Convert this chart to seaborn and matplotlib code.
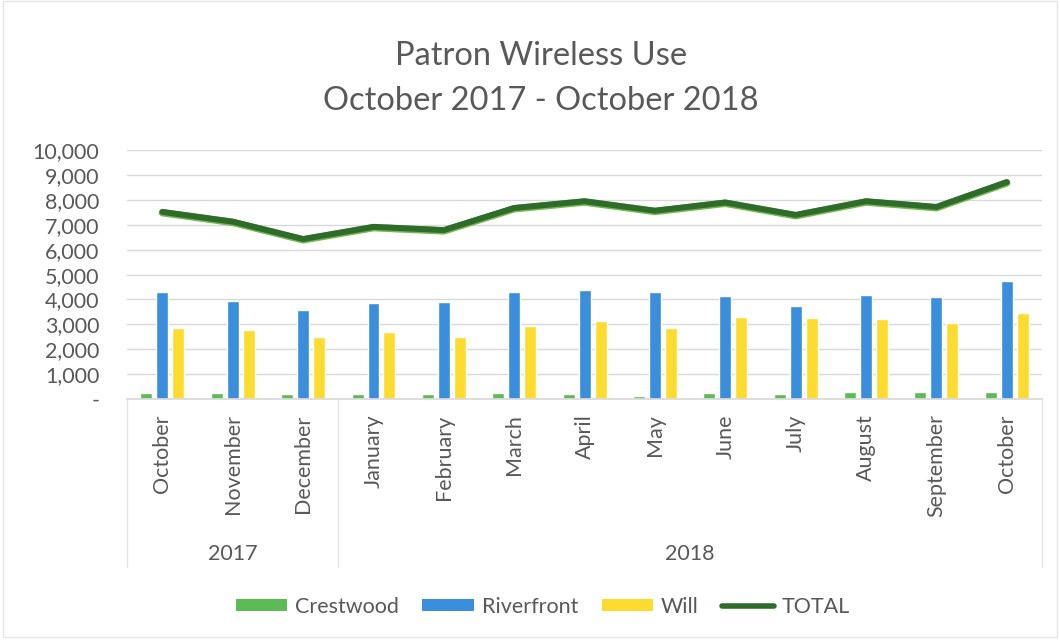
import numpy as np
import pandas as pd
import matplotlib
matplotlib.use("Agg")
import matplotlib.pyplot as plt
import matplotlib.patheffects as pe
from matplotlib.patches import Patch, Rectangle
from matplotlib.lines import Line2D
import seaborn as sns

# ---- data -------------------------------------------------------------
periods = ["2017-10", "2017-11", "2017-12", "2018-01", "2018-02", "2018-03",
           "2018-04", "2018-05", "2018-06", "2018-07", "2018-08", "2018-09",
           "2018-10"]
month_labels = ["October", "November", "December", "January", "February",
                "March", "April", "May", "June", "July", "August",
                "September", "October"]
years = ["2017", "2018"]
year_spans = [(0, 2), (3, 12)]

crestwood = [250, 250, 220, 190, 200, 230, 220, 130, 240, 200, 300, 300, 270]
riverfront = [4300, 3930, 3580, 3870, 3900, 4320, 4380, 4320, 4130, 3720,
              4170, 4110, 4750]
will = [2870, 2770, 2490, 2700, 2480, 2920, 3130, 2860, 3280, 3240, 3200,
        3050, 3450]
total = [7520, 7130, 6430, 6920, 6790, 7680, 7950, 7570, 7900, 7400, 7950,
         7720, 8720]

branches = ["Crestwood", "Riverfront", "Will"]
colors = {"Crestwood": "#5DBB55", "Riverfront": "#3A8EDB", "Will": "#FDDC2F"}
total_color = "#2F6B2B"
text_color = "#595959"
grid_color = "#D9D9D9"

df = pd.DataFrame({
    "period": periods * 3,
    "branch": sum([[b] * len(periods) for b in branches], []),
    "sessions": crestwood + riverfront + will,
})
df_total = pd.DataFrame({"pos": np.arange(len(periods)), "total": total})

# ---- figure -----------------------------------------------------------
sns.set_theme(style="white")
plt.rcParams["font.family"] = ["Lato", "DejaVu Sans"]

fig = plt.figure(figsize=(10.6, 6.42), dpi=100)
ax = fig.add_axes([0.120, 0.3785, 0.863, 0.3875])

sns.barplot(data=df, x="period", y="sessions", hue="branch",
            order=periods, hue_order=branches, palette=colors,
            width=0.68, gap=0.25, saturation=1, legend=False, ax=ax)
sns.lineplot(data=df_total, x="pos", y="total", color=total_color,
             linewidth=4.3, ax=ax, legend=False,
             path_effects=[pe.Stroke(linewidth=5.3, foreground="#74B84F", offset=(0, -0.6)),
                           pe.Normal()])

ax.set_xlim(-0.5, len(periods) - 0.5)
ax.set_ylim(0, 10000)
ax.set_yticks(np.arange(0, 10001, 1000))
ax.set_yticklabels(["-"] + [f"{v:,}" for v in range(1000, 10001, 1000)])
ax.yaxis.grid(True, color=grid_color, linewidth=1)
ax.set_axisbelow(True)
for s in ["top", "right", "left"]:
    ax.spines[s].set_visible(False)
ax.spines["bottom"].set_color(grid_color)
ax.set_xlabel("")
ax.set_ylabel("")
ax.set_xticks(np.arange(len(periods)))
ax.set_xticklabels(month_labels, rotation=90, va="top", ha="center")
ax.tick_params(axis="x", length=0, pad=11, labelsize=15.5, labelcolor=text_color)
ax.tick_params(axis="y", length=0, pad=20, labelsize=15.5, labelcolor=text_color)

# multi-level category axis: year boxes
xt = ax.get_xaxis_transform()
for xb in [-0.5, 2.5, len(periods) - 0.5]:
    ax.add_line(Line2D([xb, xb], [0, -0.675], transform=xt, color="#E3E3E3",
                       linewidth=1, clip_on=False))
for yr, (a, b) in zip(years, year_spans):
    ax.text((a + b) / 2, -0.625, yr, transform=xt, ha="center", va="center",
            fontsize=15.5, color=text_color)

# title
fig.text(0.51, 0.912, "Patron Wireless Use", ha="center", va="center",
         fontsize=23.5, color=text_color)
fig.text(0.51, 0.842, "October 2017 - October 2018", ha="center", va="center",
         fontsize=23.5, color=text_color)

# legend
handles = [Patch(facecolor=colors[b], edgecolor="none") for b in branches]
handles.append(Line2D([0], [0], color=total_color, linewidth=4))
labels = branches + ["TOTAL"]
fig.legend(handles, labels, loc="center", bbox_to_anchor=(0.512, 0.055), ncol=4,
           frameon=False, fontsize=15.5, labelcolor=text_color,
           handlelength=2.4, handleheight=0.5, handletextpad=0.35,
           columnspacing=1.1)

# light outer border of the chart area
fig.add_artist(Rectangle((0.003, 0.008), 0.994, 0.99, transform=fig.transFigure,
                         fill=False, edgecolor="#E6E6E6", linewidth=1))

fig.savefig("out.png", dpi=100, facecolor="white")
